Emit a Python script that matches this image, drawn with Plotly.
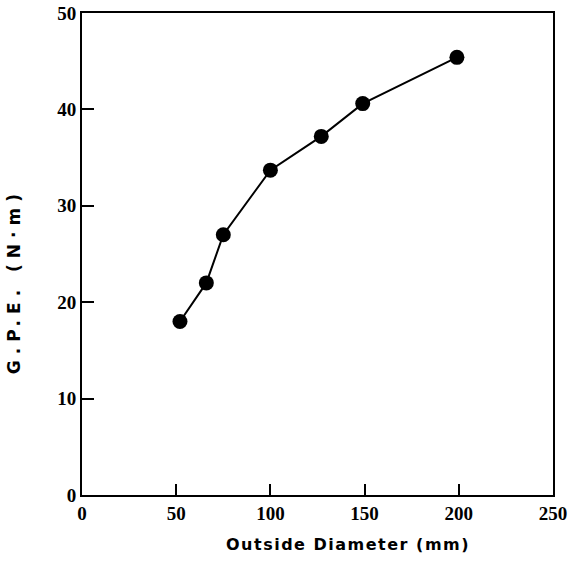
import plotly.graph_objects as go

outside_diameter = [52, 66, 75, 100, 127, 149, 199]
gpe = [18.0, 22.0, 27.0, 33.7, 37.2, 40.6, 45.4]
x_ticks = [0, 50, 100, 150, 200, 250]
y_ticks = [0, 10, 20, 30, 40, 50]

fig = go.Figure()
fig.add_trace(go.Scatter(
    x=outside_diameter, y=gpe, mode="lines+markers",
    line=dict(color="black", width=2),
    marker=dict(color="black", size=15),
    showlegend=False,
))

tickfont = dict(family="Liberation Serif", size=19, color="black")
fig.update_layout(
    width=577, height=574,
    margin=dict(l=82, r=24, t=13, b=79),
    paper_bgcolor="white", plot_bgcolor="white",
    font=dict(color="black"),
    xaxis=dict(
        range=[0, 250], tickvals=x_ticks, ticktext=[f"<b>{v}</b>" for v in x_ticks],
        ticks="inside", ticklen=11, tickwidth=1.5, tickcolor="black",
        showline=True, linecolor="black", linewidth=2, mirror=True,
        showgrid=False, zeroline=False, tickfont=tickfont, automargin=False,
    ),
    yaxis=dict(
        range=[0, 50], tickvals=y_ticks, ticktext=[f"<b>{v}</b>" for v in y_ticks],
        ticks="inside", ticklen=12, tickwidth=1.5, tickcolor="black",
        showline=True, linecolor="black", linewidth=2, mirror=True,
        showgrid=False, zeroline=False, tickfont=tickfont, automargin=False,
    ),
    annotations=[
        dict(text='<span style="letter-spacing:1.5px"><b>Outside Diameter (mm)</b></span>',
             xref="paper", yref="paper", x=0.565, y=-0.1017,
             xanchor="center", yanchor="middle", showarrow=False,
             font=dict(family="DejaVu Sans", size=16, color="black")),
        dict(text='<span style="letter-spacing:6px"><b>G.P.E. (N·m)</b></span>',
             xref="paper", yref="paper", x=-0.144, y=0.444, textangle=-90,
             xanchor="center", yanchor="middle", showarrow=False,
             font=dict(family="DejaVu Sans", size=17, color="black")),
    ],
)
fig.write_html("out.html", config={"displayModeBar": False},
               post_script="document.body.style.margin='0';")
